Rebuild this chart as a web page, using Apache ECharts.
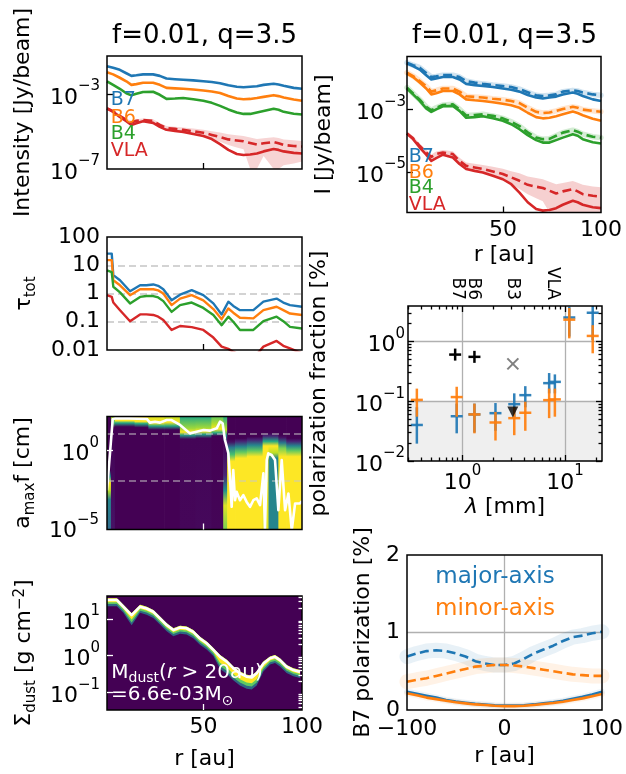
<!DOCTYPE html>
<html><head><meta charset="utf-8">
<script src="https://cdn.jsdelivr.net/npm/echarts@6/dist/echarts.min.js"></script>
<style>html,body{margin:0;padding:0;background:#fff}#c{width:626px;height:774px}</style>
</head><body><div id="c"></div>
<script>
// ================= DATA =================
// Radial intensity profiles, log10(I [Jy/beam]); solid = model, dashed = observed
const rI = [1.0,4.1,7.5,10.8,13.4,15.9,19.3,24.4,27.8,31.2,35.5,39.7,44.8,49.9,54.2,58.4,62.6,66.9,70.3,73.7,77.1,80.5,85.6,88.1,90.7,95.8,100];
const logI_B7  = [-1.52,-1.60,-1.71,-1.89,-2.03,-2.00,-1.95,-1.95,-2.03,-2.17,-2.21,-2.24,-2.27,-2.32,-2.36,-2.42,-2.53,-2.61,-2.64,-2.61,-2.58,-2.51,-2.45,-2.49,-2.56,-2.67,-2.72];
const logIobs_B7 = [-1.49,-1.57,-1.65,-1.82,-1.95,-1.93,-1.89,-1.89,-1.95,-2.08,-2.13,-2.17,-2.21,-2.24,-2.27,-2.34,-2.44,-2.54,-2.56,-2.54,-2.51,-2.42,-2.38,-2.40,-2.45,-2.51,-2.54];
const logI_B6  = [-1.84,-1.95,-2.13,-2.32,-2.51,-2.47,-2.40,-2.40,-2.51,-2.67,-2.70,-2.72,-2.76,-2.81,-2.86,-2.94,-3.10,-3.24,-3.28,-3.26,-3.21,-3.15,-3.06,-3.11,-3.18,-3.29,-3.36];
const logIobs_B6 = [-1.81,-1.92,-2.08,-2.25,-2.42,-2.38,-2.32,-2.32,-2.42,-2.57,-2.59,-2.61,-2.65,-2.68,-2.72,-2.79,-2.94,-3.07,-3.11,-3.09,-3.04,-2.98,-2.91,-2.94,-3.00,-3.04,-3.07];
const logI_B4  = [-2.32,-2.51,-2.72,-2.96,-3.07,-2.99,-2.89,-2.88,-3.04,-3.26,-3.24,-3.21,-3.28,-3.36,-3.47,-3.63,-3.82,-3.98,-4.06,-4.06,-3.98,-3.90,-3.79,-3.84,-3.95,-4.05,-4.09];
const logIobs_B4 = [-2.29,-2.48,-2.68,-2.91,-3.02,-2.94,-2.85,-2.83,-2.99,-3.19,-3.17,-3.15,-3.20,-3.28,-3.39,-3.53,-3.73,-3.90,-3.95,-3.94,-3.84,-3.74,-3.66,-3.71,-3.79,-3.87,-3.90];
const logI_VLA = [-3.77,-3.95,-4.22,-4.45,-4.65,-4.56,-4.45,-4.54,-4.75,-4.91,-4.97,-5.02,-5.13,-5.24,-5.40,-5.67,-5.98,-6.20,-6.25,-6.23,-6.17,-6.06,-5.93,-5.98,-6.06,-6.14,-6.17];
const logIobs_VLA = [-3.77,-3.92,-4.17,-4.38,-4.52,-4.43,-4.38,-4.43,-4.65,-4.81,-4.86,-4.91,-4.99,-5.07,-5.18,-5.29,-5.42,-5.48,-5.52,-5.61,-5.70,-5.63,-5.56,-5.63,-5.72,-5.77,-5.80];
const logIobsHi_VLA = [-3.70,-3.85,-4.09,-4.30,-4.44,-4.35,-4.30,-4.34,-4.55,-4.70,-4.74,-4.78,-4.84,-4.90,-4.98,-5.05,-5.15,-5.20,-5.24,-5.32,-5.40,-5.36,-5.30,-5.35,-5.42,-5.47,-5.50];
const logIobsLo_VLA = [-3.84,-3.99,-4.25,-4.46,-4.60,-4.51,-4.46,-4.52,-4.75,-4.92,-4.98,-5.04,-5.14,-5.24,-5.40,-5.55,-5.72,-5.85,-5.95,-7.0,-7.0,-6.3,-7.0,-7.0,-6.8,-6.7,-6.6];
const bandNamesI = ['B7','B6','B4','VLA'];

// Optical depth, log10(tau_tot)
const rTau = [1.0,3.4,4.2,7.6,12.7,17.8,21.0,24.5,27.0,29.6,33.8,38.1,44.0,49.9,55.0,59.2,62.6,65.1,68.5,75.3,80.4,87.1,90.5,93.9,100];
const logTau_B7  = [1.41,1.41,0.65,0.47,0.08,0.29,0.29,0.32,0.27,0.15,-0.24,-0.04,0.12,-0.06,-0.35,-0.74,-0.29,-0.44,-0.59,-0.59,-0.29,-0.18,-0.32,-0.41,-0.47];
const logTau_B6  = [1.18,1.18,0.47,0.29,-0.06,0.15,0.15,0.15,0.11,0.0,-0.41,-0.18,-0.06,-0.24,-0.55,-0.91,-0.53,-0.68,-0.86,-0.88,-0.59,-0.47,-0.59,-0.71,-0.76];
const logTau_B4  = [0.82,0.76,0.24,0.04,-0.35,-0.12,-0.09,-0.09,-0.14,-0.27,-0.65,-0.41,-0.32,-0.51,-0.76,-1.12,-0.82,-1.0,-1.29,-1.29,-0.98,-0.82,-0.98,-1.18,-1.24];
const logTau_VLA = [-0.06,-0.12,-0.32,-0.59,-0.98,-0.74,-0.74,-0.76,-0.82,-0.94,-1.29,-1.15,-1.19,-1.29,-1.56,-1.88,-1.96,-2.06,-2.18,-2.3,-1.88,-1.68,-1.85,-1.94,-2.12];
const tauRefLines = [1, 0, -1];            // log10 of 10, 1, 0.1
const tauTicks = [2, 1, 0, -1, -2];
const tauTickText = ['100','10','1','0.1','0.01'];

// a_max f : best-fit line, log10(cm)
const rAmax = [1.0,1.7,3.9,5.1,12,21.2,22.8,25.4,27.9,31.3,33.8,38.1,43.1,46.5,50.0,53.3,56.7,58.4,59.7,60.9,62.6,63.4,64.3,65.1,66.0,66.8,68.5,70.2,71.9,73.6,75.3,77.0,78.7,80.4,81.2,82.1,82.9,84.6,86.3,88.0,89.7,91.4,93.1,94.8,96.5,99.0,100];
const logAmax = [-2.6,-2.47,2.04,2.10,2.10,2.06,1.82,1.88,1.82,1.99,1.99,1.67,1.12,1.23,1.34,1.30,1.45,1.88,1.78,0.69,-0.18,-1.71,-3.67,-1.27,-3.24,-2.69,-3.24,-2.91,-3.35,-3.67,-3.24,-3.12,-3.56,-1.49,-5.2,-0.62,-0.18,-0.29,-0.62,-3.89,-0.62,-3.89,-2.80,-5.2,-3.45,-3.45,-3.3];
const amaxRefLines = [1.12, -1.99];
// probability map: column edges in r and (log10 a, level 0..1) stops from bottom to top
const hmEdges = [1,3,5,15,22,30,38,46,54,60,62,66,72,80,83,88,92,100];
const hmStops = [
  [[-5.15,0.35],[-3.2,0.45],[-2.6,0.9],[-2.1,1],[-1.7,0.5],[-1.3,0],[2.22,0]],
  [[-5.15,0.05],[1.5,0],[1.8,0.7],[2.22,0.9]],
  [[-5.15,0],[1.55,0],[1.8,0.6],[1.95,1],[2.22,1]],
  [[-5.15,0],[1.5,0],[1.75,0.6],[1.9,1],[2.22,1]],
  [[-5.15,0],[1.35,0],[1.6,0.6],[1.8,1],[2.22,0.95]],
  [[-5.15,0],[1.35,0],[1.6,0.6],[1.85,1],[2.22,0.9]],
  [[-5.15,0.015],[0.75,0.01],[1.0,0.55],[1.2,1],[1.45,0.85],[2.22,0.6]],
  [[-5.15,0.02],[0.8,0.01],[1.05,0.55],[1.25,1],[1.5,0.85],[2.22,0.6]],
  [[-5.15,0.01],[0.95,0],[1.15,0.6],[1.4,1],[1.7,0.9],[2.22,0.75]],
  [[-5.15,0.8],[-3.6,0.95],[-2.6,0.5],[-1.6,0.1],[0.5,0],[1.0,0.5],[1.35,0.9],[2.22,0.6]],
  [[-5.15,1],[-0.7,1],[-0.25,0.7],[0.2,0.4],[0.55,0.05],[0.75,0],[2.22,0]],
  [[-5.15,1],[-0.5,1],[-0.1,0.75],[0.25,0.45],[0.6,0.1],[0.8,0],[2.22,0]],
  [[-5.15,1],[-0.4,1],[0,0.75],[0.35,0.45],[0.7,0.1],[0.9,0],[2.22,0]],
  [[-5.15,0.95],[-1,1],[0.3,1],[0.6,0.6],[0.95,0.1],[1.15,0],[2.22,0]],
  [[-5.15,0.45],[-0.5,0.45],[-0.15,0.9],[0.3,1],[0.6,0.6],[0.95,0.1],[1.15,0],[2.22,0]],
  [[-5.15,1],[-0.4,1],[0.15,0.8],[0.5,0.4],[0.85,0.05],[1.0,0],[2.22,0]],
  [[-5.15,1],[-0.4,1],[0,0.75],[0.3,0.45],[0.6,0.1],[0.8,0],[2.22,0]]
];

// Sigma_dust, log10(g cm^-2), with the bright ridge of the posterior around it
const rSig = [1.0,6.0,9.3,13.5,17.8,21.1,24.5,27.9,31.3,34.7,38.1,41.4,44.8,48.2,51.6,55.0,58.4,61.8,65.1,68.5,71.9,74.5,77.0,80.4,83.8,86.3,88.8,92.2,95.6,99.0];
const logSig = [1.52,1.52,1.34,1.11,1.34,1.29,1.20,1.02,0.84,0.70,0.77,0.75,0.65,0.47,0.34,0.16,-0.03,-0.16,-0.34,-0.48,-0.57,-0.59,-0.48,-0.21,-0.07,-0.03,-0.12,-0.30,-0.39,-0.44];
const logSigHi = [1.57,1.57,1.39,1.16,1.39,1.34,1.25,1.07,0.89,0.75,0.82,0.80,0.70,0.52,0.39,0.21,0.02,-0.11,-0.29,-0.43,-0.52,-0.54,-0.43,-0.16,-0.02,0.02,-0.07,-0.25,-0.34,-0.39];
const logSigCoreLo = [1.46,1.46,1.28,0.99,1.28,1.23,1.14,0.96,0.78,0.64,0.71,0.69,0.59,0.41,0.28,0.10,-0.19,-0.32,-0.50,-0.64,-0.73,-0.75,-0.64,-0.31,-0.13,-0.09,-0.18,-0.36,-0.45,-0.50];
const logSigMidLo = [1.41,1.41,1.23,0.91,1.23,1.18,1.09,0.91,0.73,0.59,0.66,0.64,0.54,0.36,0.23,0.05,-0.28,-0.41,-0.59,-0.73,-0.82,-0.84,-0.73,-0.37,-0.18,-0.14,-0.23,-0.41,-0.50,-0.55];
const logSigLo = [1.35,1.35,1.17,0.83,1.17,1.12,1.03,0.85,0.67,0.53,0.60,0.58,0.48,0.30,0.17,-0.01,-0.36,-0.49,-0.67,-0.81,-0.90,-0.92,-0.81,-0.43,-0.24,-0.20,-0.29,-0.47,-0.56,-0.61];

// Polarization fraction [%] vs wavelength [mm]
const lamObs   = [0.36,0.88,1.31,2.1,3.2,4.1,7.0,7.96,11.0,18.6];
const pMajor   = [0.040,0.056,0.060,0.063,0.089,0.126,0.20,0.21,2.5,3.0];
const pMajorLo = [0.0195,0.029,0.030,0.032,0.054,0.079,0.135,0.135,1.2,1.05];
const pMajorHi = [0.079,0.091,0.091,0.093,0.135,0.178,0.295,0.28,3.8,4.5];
const pMinor   = [0.105,0.117,0.060,0.044,0.052,0.064,0.104,0.107,2.3,1.23];
const pMinorLo = [0.055,0.055,0.029,0.022,0.027,0.032,0.052,0.055,1.12,0.63];
const pMinorHi = [0.162,0.174,0.091,0.066,0.079,0.098,0.162,0.162,3.6,1.86];
const lamRef = [0.85,1.31], pRef = [0.6,0.55];       // black +
const lamCross = [3.1], pCross = [0.42];             // grey x
const lamUL = [3.1], pUL = [0.066];                  // upper limit (down triangle)
const polShadeMax = 0.1;
const bandNames = ['B7','B6','B3','VLA'];
const bandLam = [0.89,1.27,3.05,7.6];

// B7 polarization [%] along the axes
const xCut = [-100,-90,-80,-70,-60,-50,-40,-30,-20,-10,0,10,20,30,40,50,60,70,80,90,100];
const majDash = [0.69,0.73,0.76,0.77,0.76,0.73,0.69,0.63,0.60,0.58,0.58,0.60,0.66,0.73,0.78,0.83,0.89,0.94,0.96,0.99,1.01];
const minDash = [0.365,0.39,0.41,0.44,0.47,0.50,0.53,0.56,0.57,0.58,0.58,0.575,0.56,0.54,0.52,0.50,0.48,0.46,0.45,0.44,0.44];
const majSolid = [0.236,0.21,0.185,0.16,0.13,0.11,0.094,0.08,0.07,0.06,0.056,0.058,0.062,0.072,0.086,0.10,0.12,0.145,0.17,0.20,0.236];
const minSolid = [0.215,0.19,0.16,0.14,0.12,0.10,0.086,0.072,0.064,0.055,0.05,0.05,0.055,0.065,0.077,0.09,0.107,0.128,0.15,0.178,0.206];

// ================= STYLE / LAYOUT =================
const FONT = '"DejaVu Sans", sans-serif';
const BLUE='#1f77b4', ORANGE='#ff7f0e', GREEN='#2ca02c', RED='#d62728';
const L10 = Math.log10;
const RANGE = {
  I:[-7,-0.97], tau:[-2,2], amax:[-5.15,2.22], sig:[-1.48,1.63], I2:[-6.31,-1.29],
  polX:[-0.53,1.36], polY:[-2,0.59]
};
const grids = [
  {left:107, top:56,    width:195, height:113},
  {left:107, top:237,   width:195, height:113},
  {left:107, top:416.5, width:195, height:113},
  {left:107, top:596,   width:195, height:114},
  {left:407, top:56.5,  width:194, height:156},
  {left:408, top:306,   width:194, height:155},
  {left:407, top:555,   width:195, height:155}
].map(g => Object.assign({show:true, z:10, backgroundColor:'transparent', borderColor:'#000', borderWidth:1.5, containLabel:false, outerBoundsMode:'none'}, g));

const viridis = ['#440154','#482475','#414487','#355f8d','#2a788e','#21918c','#22a884','#44bf70','#7ad151','#bddf26','#fde725'];
function hex(c){const n=parseInt(c.slice(1),16);return [(n>>16)&255,(n>>8)&255,n&255];}
function vcol(v){v=Math.max(0,Math.min(1,v));const f=v*10,i=Math.min(9,Math.floor(f)),t=f-i;const a=hex(viridis[i]),b=hex(viridis[i+1]);
  return 'rgb('+a.map((x,k)=>Math.round(x*(1-t)+b[k]*t)).join(',')+')';}

const supTxt = e => (e < 0 ? '\u2212' + (-e) : String(e));
const pow = v => '{b|10}{s|' + supTxt(Math.round(v)) + '}';
const powRich = {
  b:{fontSize:22, fontFamily:FONT, color:'#000', lineHeight:30, verticalAlign:'bottom'},
  s:{fontSize:15, fontFamily:FONT, color:'#000', lineHeight:14, verticalAlign:'top'}
};
const nameRich = {
  n:{fontSize:22, fontFamily:FONT, color:'#000', lineHeight:22, verticalAlign:'top'},
  it:{fontSize:22, fontFamily:FONT, fontStyle:'italic', color:'#000', lineHeight:22, verticalAlign:'top'},
  sub:{fontSize:15, fontFamily:FONT, color:'#000', lineHeight:25.5, verticalAlign:'bottom'},
  sup:{fontSize:15, fontFamily:FONT, color:'#000', lineHeight:14, verticalAlign:'top'}
};
const nameStyle = {fontSize:22, fontFamily:FONT, color:'#000', lineHeight:22, rich:nameRich};

function ax(grid, min, max, o) {
  o = o || {};
  return {
    type:'value', gridIndex:grid, min, max, position:o.position, z:11, silent:true,
    axisLine:{show:false, onZero:false}, splitLine:{show:false},
    axisTick:{show:!!o.ticks, inside:true, length:o.tickLen||6, customValues:o.ticks,
      lineStyle:{color:o.tickColor||'#000', width:1.3}},
    axisLabel:{show:!!o.labels, customValues:o.labels, margin:(o.margin==null?7:o.margin), rotate:o.rotate||0,
      hideOverlap:false, color:'#000', fontFamily:FONT, fontSize:o.fontSize||22, lineHeight:o.lineHeight||22,
      formatter:o.fmt, rich:powRich},
    name:o.name, nameLocation:'middle', nameGap:o.nameGap, nameRotate:o.nameRotate, nameTextStyle:nameStyle
  };
}
const minorX = [0.3,0.4,0.5,0.6,0.7,0.8,0.9,2,3,4,5,6,7,8,9,20].map(L10);
const minorY = [0.02,0.03,0.04,0.05,0.06,0.07,0.08,0.09,0.2,0.3,0.4,0.5,0.6,0.7,0.8,0.9,2,3].map(L10);
const minorS = [0.04,0.05,0.06,0.07,0.08,0.09,0.2,0.3,0.4,0.5,0.6,0.7,0.8,0.9,2,3,4,5,6,7,8,9,20,30,40].map(L10);
const signed = v => (v < 0 ? '\u2212' + (-v) : String(v));
const bandFmt = v => { let k = 0, d = 1e9; bandLam.forEach((l,i)=>{ const dd = Math.abs(L10(l)-v); if (dd < d) { d = dd; k = i; } }); return bandNames[k]; };

const xAxis = [
  ax(0,1,100,{ticks:[50]}),
  ax(1,1,100,{ticks:[50]}),
  ax(2,1,100,{ticks:[50], tickColor:'#fff'}),
  ax(3,1,100,{ticks:[50], tickColor:'#fff', labels:[50,100], fmt:v=>String(v), margin:6.5, name:'r [au]', nameGap:38}),
  ax(4,1,100,{ticks:[50], labels:[50,100], fmt:v=>String(v), margin:6.5, name:'r [au]', nameGap:32}),
  ax(5,RANGE.polX[0],RANGE.polX[1],{position:'bottom', ticks:[0,1], labels:[0,1], fmt:pow, margin:3, name:'{it|\u03bb}{n| [mm]}', nameGap:35}),
  ax(5,RANGE.polX[0],RANGE.polX[1],{position:'bottom', ticks:minorX, tickLen:3.5}),
  ax(5,RANGE.polX[0],RANGE.polX[1],{position:'top', ticks:[0,1]}),
  ax(5,RANGE.polX[0],RANGE.polX[1],{position:'top', ticks:minorX, tickLen:3.5}),
  ax(6,-100,100,{labels:[-100,0,100], fmt:signed, margin:8, name:'r [au]', nameGap:35})
];
// one top axis per band label so that no label is dropped for overlapping
bandLam.forEach(l => xAxis.push(ax(5,RANGE.polX[0],RANGE.polX[1],{position:'top', labels:[L10(l)], rotate:90, margin:6, fontSize:17, lineHeight:17, fmt:bandFmt})));

const yAxis = [
  ax(0,RANGE.I[0],RANGE.I[1],{ticks:[-3], labels:[-7,-3], fmt:pow, margin:7, name:'Intensity [Jy/beam]', nameGap:73}),
  ax(1,RANGE.tau[0],RANGE.tau[1],{labels:tauTicks, fmt:v=>tauTickText[tauTicks.indexOf(Math.round(v))], margin:7, name:'{n|\u03c4}{sub|tot}', nameGap:68.5}),
  ax(2,RANGE.amax[0],RANGE.amax[1],{ticks:[0], tickColor:'#fff', labels:[-5,0], fmt:pow, margin:8, name:'{n|a}{sub|max}{n|f [cm]}', nameGap:69}),
  ax(3,RANGE.sig[0],RANGE.sig[1],{ticks:[-1,0,1], tickColor:'#fff', labels:[-1,0,1], fmt:pow, margin:7, name:'{n|\u03a3}{sub|dust}{n| [g cm}{sup|\u22122}{n|]}', nameGap:68.5}),
  ax(3,RANGE.sig[0],RANGE.sig[1],{ticks:minorS, tickColor:'#fff', tickLen:3.5}),
  ax(4,RANGE.I2[0],RANGE.I2[1],{ticks:[-5,-3], labels:[-5,-3], fmt:pow, margin:1, name:'I [Jy/beam]', nameGap:71.5}),
  ax(5,RANGE.polY[0],RANGE.polY[1],{position:'left', ticks:[-2,-1,0], labels:[-2,-1,0], fmt:pow, margin:3, name:'polarization fraction [%]', nameGap:78}),
  ax(5,RANGE.polY[0],RANGE.polY[1],{position:'left', ticks:minorY, tickLen:3.5}),
  ax(5,RANGE.polY[0],RANGE.polY[1],{position:'right', ticks:[-2,-1,0]}),
  ax(5,RANGE.polY[0],RANGE.polY[1],{position:'right', ticks:minorY, tickLen:3.5}),
  ax(6,0,2,{labels:[0,1,2], fmt:v=>String(v), margin:7, name:'B7 polarization [%]', nameGap:33})
];

// ================= SERIES =================
const zip = (xs, ys) => xs.map((x,i)=>[x, ys[i]]);
function line(xi, yi, xs, ys, color, o) {
  o = o || {};
  return {type:'line', xAxisIndex:xi, yAxisIndex:yi, data:zip(xs,ys), showSymbol:false, symbol:'none', silent:true,
    z:o.z||3, clip:true, animation:false,
    lineStyle:{color, width:o.w||2.6, type:o.dash?[9,4.5]:'solid', opacity:o.op==null?1:o.op, cap:o.cap||'butt', join:'round'}};
}
function clampY(cs, p){ return [p[0], Math.min(cs.y+cs.height, Math.max(cs.y, p[1]))]; }
function band(xi, yi, xs, lo, hi, fill, z) {
  return {type:'custom', xAxisIndex:xi, yAxisIndex:yi, z:z||1, silent:true, clip:true, animation:false,
    data:[[xs[0], hi[0]]],
    renderItem(params, api){
      const cs = params.coordSys, pts = [];
      for (let i=0;i<xs.length;i++) pts.push(clampY(cs, api.coord([xs[i], hi[i]])));
      for (let i=xs.length-1;i>=0;i--) pts.push(clampY(cs, api.coord([xs[i], lo[i]])));
      return {type:'polygon', shape:{points:pts}, style:{fill}};
    }};
}
function fullRect(xi, yi, x0, y0, fill) {
  return {type:'custom', xAxisIndex:xi, yAxisIndex:yi, z:0, silent:true, animation:false, data:[[x0,y0]],
    renderItem(params){ const cs=params.coordSys; return {type:'rect', shape:{x:cs.x,y:cs.y,width:cs.width,height:cs.height}, style:{fill}}; }};
}
function refLines(xi, yi, lines, style, z) {
  return {type:'line', xAxisIndex:xi, yAxisIndex:yi, data:[], silent:true, z:z||1, animation:false,
    markLine:{silent:true, z:z||1, animation:false, symbol:['none','none'], label:{show:false}, lineStyle:style, data:lines}};
}
function errSeries(xi, yi, lam, p, lo, hi, color, z) {
  return {type:'custom', xAxisIndex:xi, yAxisIndex:yi, z, silent:true, clip:true, animation:false,
    data: lam.map((l,i)=>[L10(l), L10(p[i]), L10(lo[i]), L10(hi[i])]),
    renderItem(params, api){
      const cs = params.coordSys;
      const c = api.coord([api.value(0), api.value(1)]);
      const a = clampY(cs, api.coord([api.value(0), api.value(2)]));
      const b = clampY(cs, api.coord([api.value(0), api.value(3)]));
      const st = {stroke:color, lineWidth:2.5, opacity:0.92};
      return {type:'group', children:[
        {type:'line', shape:{x1:c[0], y1:a[1], x2:c[0], y2:b[1]}, style:st},
        {type:'line', shape:{x1:c[0]-6, y1:c[1], x2:c[0]+6, y2:c[1]}, style:st}]};
    }};
}
function markerSeries(xi, yi, lam, p, kind, color, z) {
  return {type:'custom', xAxisIndex:xi, yAxisIndex:yi, z, silent:true, animation:false,
    data: lam.map((l,i)=>[L10(l), L10(p[i])]),
    renderItem(params, api){
      const c = api.coord([api.value(0), api.value(1)]);
      const st = {stroke:color, lineWidth:kind==='x'?2:2.5};
      const s = kind==='x'?5.5:6;
      const ch = kind==='x'
        ? [{type:'line',shape:{x1:c[0]-s,y1:c[1]-s,x2:c[0]+s,y2:c[1]+s},style:st},{type:'line',shape:{x1:c[0]-s,y1:c[1]+s,x2:c[0]+s,y2:c[1]-s},style:st}]
        : [{type:'line',shape:{x1:c[0]-s,y1:c[1],x2:c[0]+s,y2:c[1]},style:st},{type:'line',shape:{x1:c[0],y1:c[1]-s,x2:c[0],y2:c[1]+s},style:st}];
      return {type:'group', children:ch};
    }};
}

const bandColorsI = [BLUE, ORANGE, GREEN, RED];
const modelI = [logI_B7, logI_B6, logI_B4, logI_VLA];
const obsI = [logIobs_B7, logIobs_B6, logIobs_B4, logIobs_VLA];
const tauCurves = [logTau_B7, logTau_B6, logTau_B4, logTau_VLA];

const series = [];
// panel 0: intensity (left)
series.push(band(0,0,rI,logIobsLo_VLA,logIobsHi_VLA,'rgba(214,39,40,0.2)',1));
modelI.forEach((c,i)=>series.push(line(0,0,rI,c,bandColorsI[i],{z:3})));
series.push(line(0,0,rI,logIobs_VLA,RED,{dash:true,z:4}));
// panel 1: tau
series.push(refLines(1,1,tauRefLines.map(v=>({yAxis:v})),{color:'#d3d3d3',width:2,type:[7,4]},1));
tauCurves.forEach((c,i)=>series.push(line(1,1,rTau,c,bandColorsI[i],{z:3,w:2.4})));
// panel 2: a_max f
series.push({type:'custom', xAxisIndex:2, yAxisIndex:2, z:1, silent:true, clip:true, animation:false,
  data: hmStops.map((s,i)=>[hmEdges[i], hmEdges[i+1], i]),
  renderItem(params, api){
    const i = api.value(2), top = RANGE.amax[1], bot = RANGE.amax[0];
    const p0 = api.coord([api.value(0), top]), p1 = api.coord([api.value(1), bot]);
    const stops = hmStops[i].slice().reverse().map(s=>({offset:Math.max(0,Math.min(1,(top-s[0])/(top-bot))), color:vcol(s[1])}));
    return {type:'rect', shape:{x:p0[0], y:p0[1], width:p1[0]-p0[0]+0.7, height:p1[1]-p0[1]},
      style:{fill:{type:'linear',x:0,y:0,x2:0,y2:1,colorStops:stops,global:false}}};
  }});
series.push(refLines(2,2,amaxRefLines.map(v=>({yAxis:v})),{color:'rgba(200,200,200,0.5)',width:2,type:[7,4]},2));
series.push(line(2,2,rAmax,logAmax,'#ffffff',{z:3,w:2.6}));
// panel 3: Sigma_dust
series.push(fullRect(3,3,rSig[0],logSig[0],'#440154'));
series.push(band(3,3,rSig,logSigLo,logSigHi,'rgba(42,120,142,0.85)',1));
series.push(band(3,3,rSig,logSigMidLo,logSigHi,'#5ec962',1));
series.push(band(3,3,rSig,logSigCoreLo,logSigHi,'#fde725',2));
series.push(line(3,3,rSig,logSig,'#ffffff',{z:3,w:2.6}));
// panel 4: intensity (right) with observations
[0,1,2].forEach(i=>series.push(line(4,5,rI,obsI[i],bandColorsI[i],{z:1,w:5.5,op:0.2,cap:'round'})));
series.push(band(4,5,rI,logIobsLo_VLA,logIobsHi_VLA,'rgba(214,39,40,0.22)',1));
modelI.forEach((c,i)=>series.push(line(4,5,rI,c,bandColorsI[i],{z:3})));
obsI.forEach((c,i)=>series.push(line(4,5,rI,c,bandColorsI[i],{z:4,dash:true})));
// panel 5: polarization fraction
series.push({type:'line', xAxisIndex:5, yAxisIndex:6, data:[], silent:true, z:1, animation:false,
  markArea:{silent:true, z:1, itemStyle:{color:'#efefef'}, animation:false,
    data:[[{xAxis:RANGE.polX[0], yAxis:RANGE.polY[0]},{xAxis:RANGE.polX[1], yAxis:L10(polShadeMax)}]]},
  markLine:{silent:true, z:2, animation:false, symbol:['none','none'], label:{show:false},
    lineStyle:{color:'#b0b0b0', width:1.3, type:'solid'}, data:[{xAxis:0},{xAxis:1},{yAxis:-1},{yAxis:0}]}});
series.push(errSeries(5,6,lamObs,pMajor,pMajorLo,pMajorHi,BLUE,5));
series.push(errSeries(5,6,lamObs,pMinor,pMinorLo,pMinorHi,ORANGE,6));
series.push(markerSeries(5,6,lamRef,pRef,'+','#000',7));
series.push(markerSeries(5,6,lamCross,pCross,'x','#808080',7));
series.push({type:'scatter', xAxisIndex:5, yAxisIndex:6, z:8, silent:true, animation:false, symbol:'triangle', symbolRotate:180, symbolSize:11,
  itemStyle:{color:'#000'}, data:lamUL.map((l,i)=>[L10(l), L10(pUL[i])])});
// panel 6: B7 polarization cuts
series.push(refLines(9,10,[{xAxis:0},{yAxis:1}],{color:'#b0b0b0',width:1.3,type:'solid'},1));
series.push(line(9,10,xCut,majDash,BLUE,{z:1,w:15,op:0.1,cap:'round'}));
series.push(line(9,10,xCut,minDash,ORANGE,{z:1,w:15,op:0.1,cap:'round'}));
series.push(line(9,10,xCut,majSolid,BLUE,{z:1,w:6,op:0.08,cap:'round'}));
series.push(line(9,10,xCut,minSolid,ORANGE,{z:1,w:6,op:0.08,cap:'round'}));
series.push(line(9,10,xCut,majSolid,BLUE,{z:3}));
series.push(line(9,10,xCut,minSolid,ORANGE,{z:3}));
series.push(line(9,10,xCut,majDash,BLUE,{z:4,dash:true}));
series.push(line(9,10,xCut,minDash,ORANGE,{z:4,dash:true}));

// ================= TEXT =================
const txt = (x, y, text, o) => ({type:'text', x, y, z:100, silent:true,
  style:Object.assign({text, fill:'#000', fontSize:22, fontFamily:FONT, align:'left', verticalAlign:'middle'}, o||{})});
const bandLabelRich = {fontSize:19, fontFamily:FONT};
const graphic = [
  txt(204.5, 36, 'f=0.01, q=3.5', {fontSize:26, align:'center'}),
  txt(504.5, 36, 'f=0.01, q=3.5', {fontSize:26, align:'center'}),
  txt(495, 577, 'major-axis', {fontSize:23, align:'center', fill:BLUE}),
  txt(495, 609.5, 'minor-axis', {fontSize:23, align:'center', fill:ORANGE})
];
const lblY1 = [100.5, 118.5, 134, 151.5], lblY2 = [157.5, 173.5, 188.5, 205];
bandNamesI.forEach((n,i)=>{
  graphic.push(txt(110.7, lblY1[i], n, Object.assign({fill:bandColorsI[i]}, bandLabelRich)));
  graphic.push(txt(408.7, lblY2[i], n, Object.assign({fill:bandColorsI[i]}, bandLabelRich)));
});
const annRich = {
  n:{fontSize:20, fontFamily:FONT, fill:'#fff', color:'#fff', lineHeight:22, verticalAlign:'top'},
  it:{fontSize:20, fontFamily:FONT, fontStyle:'italic', fill:'#fff', color:'#fff', lineHeight:22, verticalAlign:'top'},
  sub:{fontSize:14, fontFamily:FONT, fill:'#fff', color:'#fff', lineHeight:23.5, verticalAlign:'bottom'}
};
graphic.push({type:'text', x:111.3, y:662.3, z:100, silent:true, style:{text:'{n|M}{sub|dust}{n|(}{it|r}{n| > 20au)}', rich:annRich, fill:'#fff', verticalAlign:'top'}});
graphic.push({type:'text', x:111, y:684.7, z:100, silent:true, style:{text:'{n|=6.6e-03M}{sub|\u2299}', rich:annRich, fill:'#fff', verticalAlign:'top'}});

const chart = echarts.init(document.getElementById('c'), null, {renderer:'canvas'});
chart.setOption({
  animation:false, backgroundColor:'#fff',
  textStyle:{fontFamily:FONT},
  grid:grids, xAxis, yAxis, series, graphic
});
</script></body></html>
